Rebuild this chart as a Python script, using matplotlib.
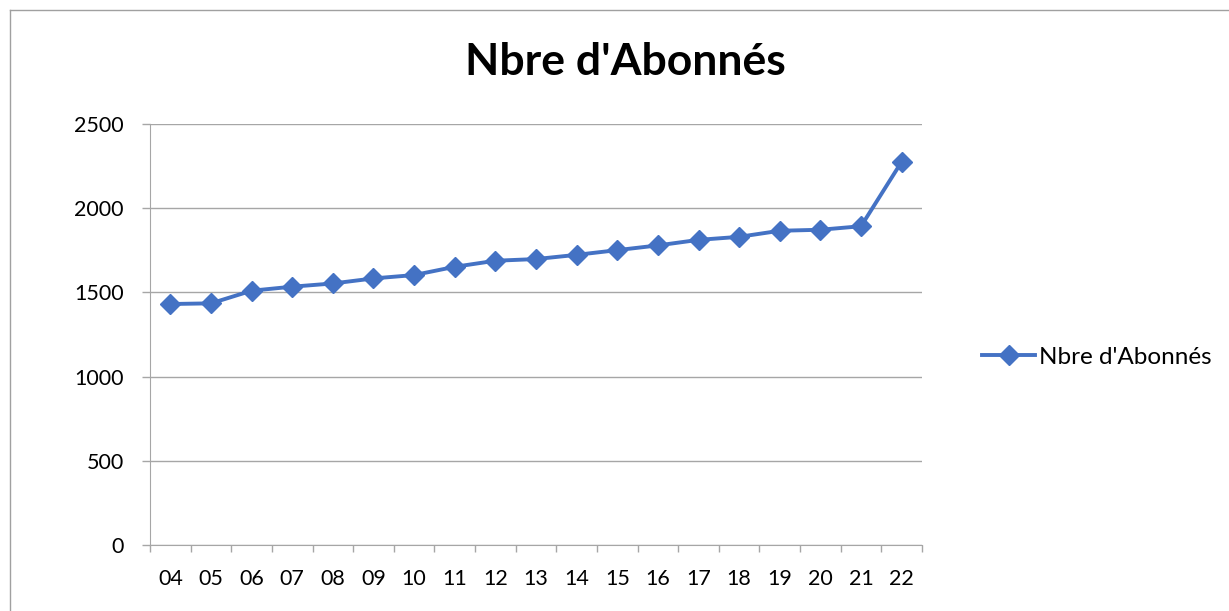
import matplotlib
matplotlib.use("Agg")
import matplotlib.pyplot as plt
from matplotlib.lines import Line2D
import numpy as np

categories = ["04", "05", "06", "07", "08", "09", "10", "11", "12", "13",
              "14", "15", "16", "17", "18", "19", "20", "21", "22"]
abonnes = [1431, 1435, 1510, 1534, 1553, 1583, 1603, 1652, 1688, 1698,
           1723, 1751, 1779, 1812, 1830, 1866, 1872, 1893, 2276]
series_name = "Nbre d'Abonnés"
y_ticks = [0, 500, 1000, 1500, 2000, 2500]

plt.rcParams['font.family'] = ['Lato', 'DejaVu Sans']

W, H = 1229, 611
fig = plt.figure(figsize=(W / 100, H / 100), dpi=100)
ax = fig.add_axes([150 / W, 1 - 545 / H, (922 - 150) / W, (545 - 124) / H])

blue = "#4472C4"
grid = "#A6A6A6"
x = np.arange(len(categories)) + 0.5
ax.plot(x, abonnes, color=blue, lw=2.8, marker="D", markersize=10,
        markeredgecolor=blue, markerfacecolor=blue, zorder=3)

ax.set_xlim(0, len(categories))
ax.set_ylim(0, 2500)
ax.set_yticks(y_ticks)
ax.set_yticklabels([str(v) for v in y_ticks])
ax.set_xticks(np.arange(len(categories) + 1))
ax.set_xticklabels([])
ax.set_xticks(x, minor=True)
ax.set_xticklabels(categories, minor=True)
ax.tick_params(axis="x", which="major", length=5, color=grid, width=1, direction="out")
ax.tick_params(axis="x", which="minor", length=0, pad=17, labelsize=15.5)
ax.tick_params(axis="y", length=6, color=grid, width=1, direction="out", labelsize=15.5, pad=13)
ax.grid(axis="y", color=grid, lw=1)
ax.set_axisbelow(True)
for s in ["top", "right"]:
    ax.spines[s].set_visible(False)
ax.spines["left"].set_color(grid)
ax.spines["bottom"].set_color(grid)

fig.text(625 / W, 1 - 62 / H, series_name, ha="center", va="center",
         fontsize=32, fontweight="bold")

handle = Line2D([], [], color=blue, lw=2.8, marker="D", markersize=10)
fig.legend([handle], [series_name], loc="center left",
           bbox_to_anchor=(982 / W, 1 - 357 / H), frameon=False,
           fontsize=17.5, handlelength=2.2, handletextpad=0.15,
           borderaxespad=0, borderpad=0)

# outer chart border (left and top visible)
fig.add_artist(Line2D([10 / W, 10 / W], [0, 1 - 10 / H], color="#A0A0A0", lw=1,
                      transform=fig.transFigure))
fig.add_artist(Line2D([10 / W, 1], [1 - 10 / H, 1 - 10 / H], color="#A0A0A0", lw=1,
                      transform=fig.transFigure))

fig.savefig("out.png", dpi=100)
